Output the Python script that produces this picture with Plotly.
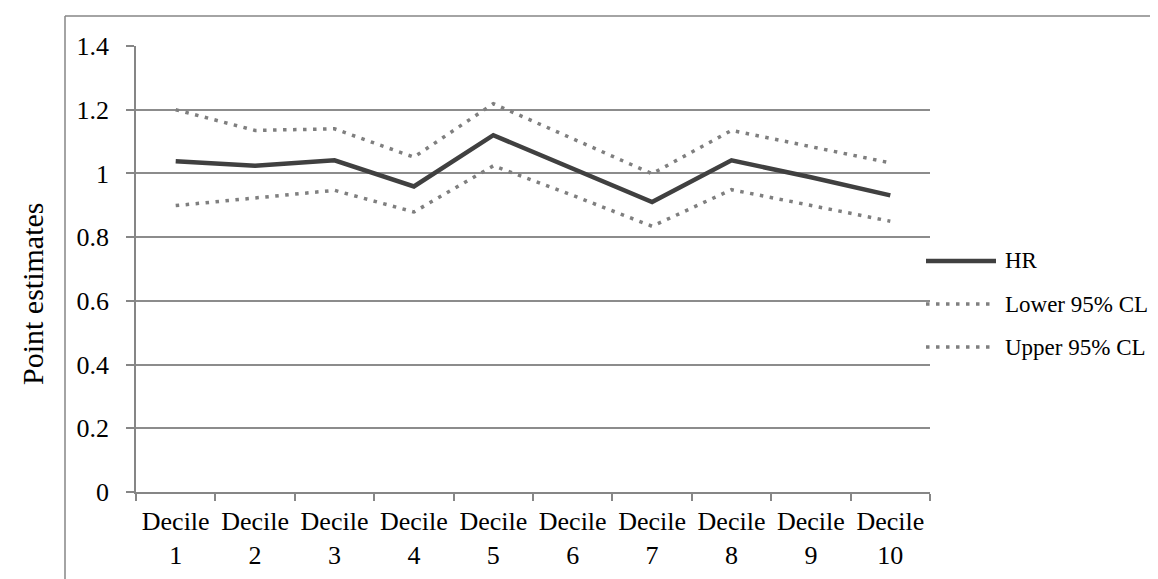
import plotly.graph_objects as go

categories = ["Decile<br>%d" % i for i in range(1, 11)]
hr = [1.038, 1.024, 1.041, 0.959, 1.120, 1.015, 0.910, 1.041, 0.988, 0.931]
lower = [0.899, 0.923, 0.947, 0.879, 1.024, 0.931, 0.834, 0.949, 0.899, 0.850]
upper = [1.200, 1.135, 1.140, 1.051, 1.219, 1.109, 0.999, 1.135, 1.083, 1.033]
series_names = ["HR", "Lower 95% CL", "Upper 95% CL"]
y_title = "Point estimates"

FONT = "Times New Roman, Liberation Serif, serif"
DARK = "#404040"
GRAY = "#7f7f7f"
AX = "#868686"
DOT = "3.5px,6.5px"

fig = go.Figure()
fig.add_trace(go.Scatter(x=categories, y=hr, mode="lines", name=series_names[0],
                         line=dict(color=DARK, width=4.5), showlegend=False))
fig.add_trace(go.Scatter(x=categories, y=lower, mode="lines", name=series_names[1],
                         line=dict(color=GRAY, width=3.5, dash=DOT), showlegend=False))
fig.add_trace(go.Scatter(x=categories, y=upper, mode="lines", name=series_names[2],
                         line=dict(color=GRAY, width=3.5, dash=DOT), showlegend=False))

W, H = 1158, 579
L, R, T, B = 128, 922, 38, 484
pw, ph = R - L, B - T

def px(x):
    return (x - L) / pw

def py(y):
    return (B - y) / ph

shapes = [
    dict(type="line", xref="paper", yref="paper", x0=px(57), x1=px(1200), y0=py(8), y1=py(8),
         line=dict(color=AX, width=1.5)),
    dict(type="line", xref="paper", yref="paper", x0=px(57), x1=px(57), y0=py(8), y1=py(620),
         line=dict(color=AX, width=1.5)),
]
annotations = [
    dict(xref="paper", yref="paper", x=px(24), y=py(286), text=y_title, textangle=-90,
         showarrow=False, xanchor="center", yanchor="middle",
         font=dict(family=FONT, size=30, color="black")),
]
leg_y = [253, 296, 339]
leg_style = [dict(color=DARK, width=4.5), dict(color=GRAY, width=3.5, dash=DOT),
             dict(color=GRAY, width=3.5, dash=DOT)]
for name, yy, st in zip(series_names, leg_y, leg_style):
    shapes.append(dict(type="line", xref="paper", yref="paper", x0=px(918), x1=px(988),
                       y0=py(yy), y1=py(yy), line=st))
    annotations.append(dict(xref="paper", yref="paper", x=px(995), y=py(yy), text=name,
                            showarrow=False, xanchor="left", yanchor="middle",
                            font=dict(family=FONT, size=23, color="black")))

fig.update_layout(
    width=W, height=H,
    margin=dict(l=L, r=W - R, t=T, b=H - B, pad=0),
    paper_bgcolor="white", plot_bgcolor="white",
    font=dict(family=FONT, size=26, color="black"),
    shapes=shapes, annotations=annotations,
    showlegend=False,
)
fig.update_xaxes(type="category", range=[-0.5, 9.5], showline=True, linecolor=AX, linewidth=1.5,
                 ticks="outside", tickson="boundaries", ticklen=7, tickcolor=AX, tickwidth=1.5,
                 showgrid=False, zeroline=False, ticklabelstandoff=5,
                 tickfont=dict(family=FONT, size=26, color="black"))
fig.update_yaxes(range=[0, 1.4], dtick=0.2, tick0=0, showline=True, linecolor=AX, linewidth=1.5,
                 ticks="outside", ticklen=8, tickcolor=AX, tickwidth=1.5,
                 showgrid=True, gridcolor="#8c8c8c", gridwidth=1.5, zeroline=False,
                 ticklabelstandoff=12,
                 tickfont=dict(family=FONT, size=26, color="black"))

fig.write_html("out.html")
